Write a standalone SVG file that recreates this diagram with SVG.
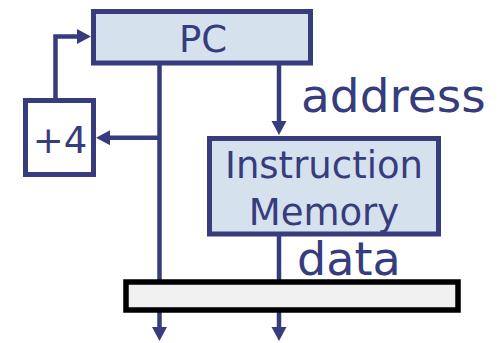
<svg xmlns="http://www.w3.org/2000/svg" width="500" height="343" viewBox="0 0 500 343">
<style>
.box{fill:#d5e1ed;stroke:#363c7d;stroke-width:5}
.wbox{fill:#ffffff;stroke:#363c7d;stroke-width:5}
.bar{fill:#f0f0f0;stroke:#000000;stroke-width:5.5}
.wire{fill:none;stroke:#363c7d;stroke-width:4.5}
.t{font-family:"DejaVu Sans",Verdana,sans-serif;fill:#363c7d;text-anchor:middle}
.lbl{font-family:"DejaVu Sans",Verdana,sans-serif;fill:#363c7d}
</style>
<defs>
<marker id="ah" markerUnits="userSpaceOnUse" markerWidth="15" markerHeight="16" refX="0" refY="7.5" orient="auto" viewBox="0 0 15 15">
<path d="M0,0 L14,7.5 L0,15 z" fill="#363c7d"/>
</marker>
</defs>
<g id="connectors">
<path class="wire" d="M159.5,63 V327" marker-end="url(#ah)"/>
<path class="wire" d="M159.5,137.7 H110" marker-end="url(#ah)"/>
<path class="wire" d="M55.5,100 V36.5 H77" marker-end="url(#ah)"/>
<path class="wire" d="M279,63 V121" marker-end="url(#ah)"/>
<path class="wire" d="M279,234 V327" marker-end="url(#ah)"/>
</g>
<g id="pc">
<rect class="box" x="93.5" y="11.5" width="217" height="51.5"/>
<text class="t" x="203" y="52" font-size="37">PC</text>
</g>
<g id="plus4">
<rect class="wbox" x="25.5" y="100.5" width="68" height="74"/>
<text class="t" x="60" y="153" font-size="37">+4</text>
</g>
<g id="imem">
<rect class="box" x="209.5" y="138.5" width="229" height="95.5"/>
<text class="t" x="324" y="178" font-size="37">Instruction</text>
<text class="t" x="324" y="225" font-size="37">Memory</text>
</g>
<g id="reg">
<rect class="bar" x="126" y="282" width="332" height="28"/>
</g>
<g id="labels">
<text class="lbl" x="301" y="112" font-size="47">address</text>
<text class="lbl" x="297" y="275" font-size="46">data</text>
</g>
</svg>
